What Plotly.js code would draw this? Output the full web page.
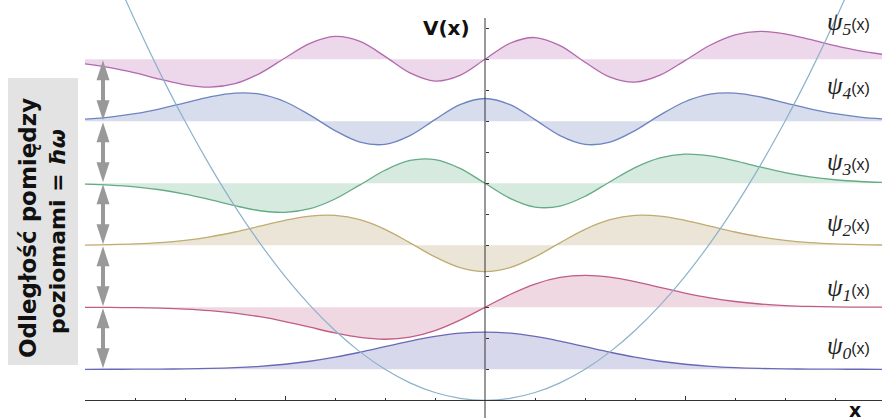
<!DOCTYPE html>
<html><head><meta charset="utf-8">
<script src="https://cdn.plot.ly/plotly-3.0.1.min.js"></script>
<style>html,body{margin:0;padding:0;background:#fff}#chart{width:882px;height:420px}</style>
</head><body><div id="chart"></div>
<script>
// ---- data ----
const xs = [-4,-3.75,-3.5,-3.25,-3,-2.75,-2.5,-2.25,-2,-1.75,-1.5,-1.25,-1,-0.75,-0.5,-0.25,0,0.25,0.5,0.75,1,1.25,1.5,1.75,2,2.25,2.5,2.75,3,3.25,3.5,3.75,4];
const levels = [0.5, 1.5, 2.5, 3.5, 4.5, 5.5];
const psi0 = [0.0002,0.0005,0.0013,0.0031,0.0067,0.0137,0.0264,0.0478,0.0813,0.1300,0.1951,0.2751,0.3645,0.4536,0.5303,0.5824,0.6009,0.5824,0.5303,0.4536,0.3645,0.2751,0.1951,0.1300,0.0813,0.0478,0.0264,0.0137,0.0067,0.0031,0.0013,0.0005,0.0002];
const psi1 = [-0.0011,-0.0028,-0.0065,-0.0141,-0.0283,-0.0533,-0.0933,-0.1521,-0.2300,-0.3216,-0.4138,-0.4863,-0.5154,-0.4811,-0.3750,-0.2059,0,0.2059,0.3750,0.4811,0.5154,0.4863,0.4138,0.3216,0.2300,0.1521,0.0933,0.0533,0.0283,0.0141,0.0065,0.0028,0.0011];
const psi2 = [0.0044,0.0102,0.0218,0.0435,0.0802,0.1368,0.2147,0.3085,0.4025,0.4709,0.4828,0.4134,0.2577,0.0401,-0.1875,-0.3604,-0.4249,-0.3604,-0.1875,0.0401,0.2577,0.4134,0.4828,0.4709,0.4025,0.3085,0.2147,0.1368,0.0802,0.0435,0.0218,0.0102,0.0044];
const psi3 = [-0.0135,-0.0289,-0.0571,-0.1039,-0.1734,-0.2637,-0.3620,-0.4425,-0.4695,-0.4103,-0.2534,-0.0248,0.2104,0.3683,0.3827,0.2417,0,-0.2417,-0.3827,-0.3683,-0.2104,0.0248,0.2534,0.4103,0.4695,0.4425,0.3620,0.2637,0.1734,0.1039,0.0571,0.0289,0.0135];
const psi4 = [0.0343,0.0678,0.1224,0.2012,0.2984,0.3943,0.4541,0.4369,0.3154,0.0999,-0.1493,-0.3361,-0.3720,-0.2300,0.0271,0.2694,0.3680,0.2694,0.0271,-0.2300,-0.3720,-0.3361,-0.1493,0.0999,0.3154,0.4369,0.4541,0.3943,0.2984,0.2012,0.1224,0.0678,0.0343];
const psi5 = [-0.0747,-0.1350,-0.2199,-0.3206,-0.4111,-0.4499,-0.3941,-0.2259,0.0210,0.2564,0.3683,0.2879,0.0471,-0.2203,-0.3509,-0.2588,0,0.2588,0.3509,0.2203,-0.0471,-0.2879,-0.3683,-0.2564,-0.0210,0.2259,0.3941,0.4499,0.4111,0.3206,0.2199,0.1350,0.0747];
const potX = [-3.75,-3.5,-3.25,-3,-2.75,-2.5,-2.25,-2,-1.75,-1.5,-1.25,-1,-0.75,-0.5,-0.25,0,0.25,0.5,0.75,1,1.25,1.5,1.75,2,2.25,2.5,2.75,3,3.25,3.5,3.75];
const potV = [7.03125,6.125,5.28125,4.5,3.78125,3.125,2.53125,2,1.53125,1.125,0.78125,0.5,0.28125,0.125,0.03125,0,0.03125,0.125,0.28125,0.5,0.78125,1.125,1.53125,2,2.53125,3.125,3.78125,4.5,5.28125,6.125,7.03125];
const labelNums = ['0','1','2','3','4','5'];
const sideText1 = 'Odległość pomiędzy';
const sideText2 = 'poziomami = <i>ħω</i>';

// ---- styles ----
const psis = [psi0, psi1, psi2, psi3, psi4, psi5];
const lineCols = ['rgb(104,104,184)','rgb(192,92,134)','rgb(192,172,112)','rgb(100,172,132)','rgb(110,132,192)','rgb(180,104,174)'];
const fillCols = ['rgba(104,104,184,0.26)','rgba(192,92,134,0.24)','rgba(180,160,110,0.28)','rgba(100,172,132,0.26)','rgba(110,132,192,0.28)','rgba(180,104,174,0.26)'];
const labelY = [347, 289, 224, 164, 87, 23];

const W = 882, H = 420;
const px0 = 485, pxPerX = 100;          // x=0 pixel, pixels per x unit
const py0 = 400.3, pxPerE = 62;          // E=0 pixel, pixels per energy unit
const xr = [(85 - px0) / pxPerX, (W - px0) / pxPerX];
const yr = [(py0 - H) / pxPerE, py0 / pxPerE];

const traces = [];
psis.forEach((p, n) => {
  traces.push({x: xs, y: xs.map(() => levels[n]), mode: 'lines', line: {width: 0}, hoverinfo: 'skip', showlegend: false});
  traces.push({x: xs, y: p.map(v => levels[n] + v), mode: 'lines', fill: 'tonexty', fillcolor: fillCols[n],
    line: {color: lineCols[n], width: 1.3, shape: 'spline', smoothing: 1}, hoverinfo: 'skip', showlegend: false});
});
traces.push({x: potX, y: potV, mode: 'lines', line: {color: 'rgb(140,178,204)', width: 1.2, shape: 'spline'}, hoverinfo: 'skip', showlegend: false});

const shapes = [];
// grey box behind side text
shapes.push({type: 'rect', xref: 'paper', yref: 'paper', x0: 8 / W, x1: 78 / W, y0: 1 - 365 / H, y1: 1 - 78 / H,
  fillcolor: '#e3e3e3', line: {width: 0}, layer: 'below'});
// y axis line
shapes.push({type: 'line', xref: 'x', yref: 'y', x0: 0, x1: 0, y0: (py0 - 418) / pxPerE, y1: (py0 - 18) / pxPerE,
  line: {color: '#333', width: 1}, layer: 'above'});
// double arrows between levels
const ax = (103 - px0) / pxPerX, hw = 6.5 / pxPerX, sw = 2 / pxPerX, hl = 20 / pxPerE, inset = 1 / pxPerE;
for (let n = 0; n < levels.length - 1; n++) {
  const lo = levels[n] + inset, hi = levels[n + 1] - inset;
  const path = `M ${ax - hw},${hi - hl} L ${ax},${hi} L ${ax + hw},${hi - hl} L ${ax + sw},${hi - hl} L ${ax + sw},${lo + hl} ` +
    `L ${ax + hw},${lo + hl} L ${ax},${lo} L ${ax - hw},${lo + hl} L ${ax - sw},${lo + hl} L ${ax - sw},${hi - hl} Z`;
  shapes.push({type: 'path', xref: 'x', yref: 'y', path: path, fillcolor: '#999999', line: {width: 0}, layer: 'above'});
}

const annotations = [];
labelNums.forEach((s, n) => {
  annotations.push({xref: 'paper', yref: 'paper', x: 825 / W, y: 1 - labelY[n] / H, xanchor: 'left', yanchor: 'middle', showarrow: false,
    text: `<span style="font-family:'Liberation Serif';font-size:25px"><i>ψ</i><sub><i>${s}</i></sub></span>(x)`,
    font: {family: 'Liberation Sans', size: 16, color: '#222'}});
});
annotations.push({xref: 'paper', yref: 'paper', x: 472 / W, y: 1 - 28.5 / H, xanchor: 'right', yanchor: 'middle', showarrow: false,
  text: '<b>V(x)</b>', font: {family: 'DejaVu Sans', size: 20, color: '#111'}});
annotations.push({xref: 'paper', yref: 'paper', x: 855 / W, y: 1 - 410 / H, xanchor: 'center', yanchor: 'middle', showarrow: false,
  text: '<b>x</b>', font: {family: 'DejaVu Sans', size: 19, color: '#111'}});
annotations.push({xref: 'paper', yref: 'paper', x: 28 / W, y: 1 - 228 / H, xanchor: 'center', yanchor: 'middle', showarrow: false,
  textangle: -90, text: '<b>' + sideText1 + '</b>', font: {family: 'DejaVu Sans', size: 23, color: '#111'}});
annotations.push({xref: 'paper', yref: 'paper', x: 57 / W, y: 1 - 232 / H, xanchor: 'center', yanchor: 'middle', showarrow: false,
  textangle: -90, text: '<b>' + sideText2 + '</b>', font: {family: 'DejaVu Sans', size: 22, color: '#111'}});

const layout = {
  width: W, height: H, margin: {l: 0, r: 0, t: 0, b: 0},
  paper_bgcolor: '#fff', plot_bgcolor: '#fff', showlegend: false,
  xaxis: {domain: [85 / W, 1], range: xr, anchor: 'free', position: 1 - py0 / H,
    showline: true, linecolor: '#333', linewidth: 1, showgrid: false, zeroline: false, showticklabels: false,
    tickmode: 'array', tickvals: [-2, 2], ticks: 'inside', ticklen: 4, tickcolor: '#333', tickwidth: 1,
    minor: {tickmode: 'array', tickvals: [-3.5,-3,-2.5,-1.5,-1,-0.5,0.5,1,1.5,2.5,3,3.5], ticks: 'inside', ticklen: 2.5, tickcolor: '#333', tickwidth: 1}},
  yaxis: {domain: [0, 1], range: yr, anchor: 'free', position: px0 / W,
    showline: false, showgrid: false, zeroline: false, showticklabels: false,
    tickmode: 'array', tickvals: [0.5,1,1.5,2,2.5,3,3.5,4,4.5,5,5.5,6], ticks: 'inside', ticklen: 3, tickcolor: '#333', tickwidth: 1},
  shapes: shapes, annotations: annotations
};
Plotly.newPlot('chart', traces, layout, {staticPlot: true, displayModeBar: false});
</script></body></html>
